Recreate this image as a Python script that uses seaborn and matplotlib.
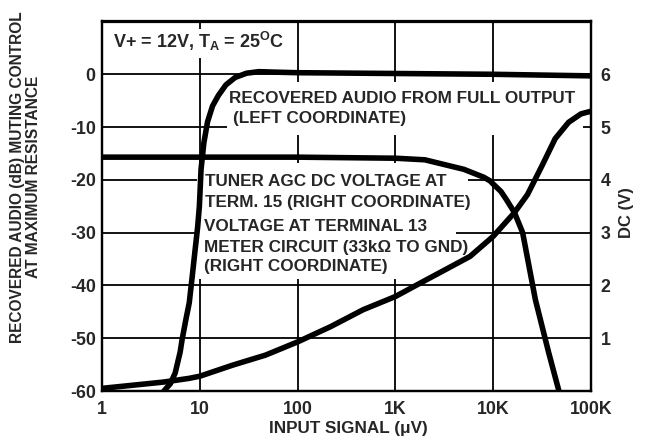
import matplotlib
matplotlib.use("Agg")
import matplotlib.pyplot as plt
from matplotlib.patches import Rectangle
from matplotlib.ticker import NullLocator
import seaborn as sns

# recovered audio from full output (left coordinate, dB)
audio_signal = [4.3, 5.0, 5.6, 6.3, 6.6, 7.2, 7.8, 8.4, 8.9, 9.5, 9.9, 10.3, 11.0, 12.0,
                13.5, 15.5, 18.5, 23, 30, 40, 60, 100, 1000, 10000, 100000]
audio_db = [-60, -58.6, -56.6, -52.6, -50.2, -46.5, -43.3, -38, -33.7, -29, -25, -18, -13, -9,
            -6, -4, -2, -0.6, 0.2, 0.5, 0.4, 0.3, 0.15, 0, -0.3]

# tuner AGC DC voltage at term. 15 (right coordinate, V)
agc_signal = [1, 100, 1000, 2000, 5000, 8000, 9300, 10000, 12000, 13600, 16500, 20000,
              27000, 37000, 47000]
agc_volts = [4.43, 4.43, 4.41, 4.38, 4.2, 4.05, 3.98, 3.92, 3.78, 3.63, 3.38, 3.0,
             1.73, 0.72, 0]

# voltage at terminal 13, meter circuit 33k to gnd (right coordinate, V)
meter_signal = [1, 4.3, 7.8, 10, 21.7, 47, 100, 218, 468, 1000, 1820, 5800, 10000, 16500,
                22400, 31600, 43000, 59000, 79000, 100000]
meter_volts = [0.05, 0.17, 0.24, 0.28, 0.49, 0.68, 0.93, 1.22, 1.54, 1.79, 2.05, 2.55, 2.93,
               3.38, 3.72, 4.27, 4.78, 5.09, 5.25, 5.30]

x_ticks = [1, 10, 100, 1000, 10000, 100000]
x_labels = ["1", "10", "100", "1K", "10K", "100K"]
db_ticks = [0, -10, -20, -30, -40, -50, -60]
dc_ticks = [1, 2, 3, 4, 5, 6]

sns.set_style("white")
plt.rcParams["font.family"] = ["Liberation Sans", "DejaVu Sans"]
plt.rcParams["font.weight"] = "bold"
plt.rcParams["axes.unicode_minus"] = False
plt.rcParams["mathtext.fontset"] = "custom"
plt.rcParams["mathtext.rm"] = "Liberation Sans:bold"
plt.rcParams["mathtext.bf"] = "Liberation Sans:bold"
plt.rcParams["mathtext.default"] = "bf"

W, H = 648, 445
L, R, T, B = 102, 591, 21.5, 391
FS_TICK = 12.8
FS_NOTE = 12.3
LW = 4.0


def fx(px):
    return (px - L) / (R - L)


def fy(py):
    return (B - py) / (B - T)


fig = plt.figure(figsize=(W / 100, H / 100), dpi=100)
ax = fig.add_axes([L / W, 1 - B / H, (R - L) / W, (B - T) / H])
ax.set_xscale("log")
ax2 = ax.twinx()

sns.lineplot(x=audio_signal, y=audio_db, ax=ax, color="black", lw=LW, zorder=3)
sns.lineplot(x=agc_signal, y=agc_volts, ax=ax2, color="black", lw=LW, zorder=3)
sns.lineplot(x=meter_signal, y=meter_volts, ax=ax2, color="black", lw=LW, zorder=3)

ax.set_xlim(1, 100000)
ax.set_ylim(-60, 10)
ax2.set_ylim(0, 7)

ax.set_xticks(x_ticks)
ax.set_xticklabels(x_labels, fontsize=FS_TICK, fontweight="bold")
ax.xaxis.set_minor_locator(NullLocator())
ax.set_yticks(db_ticks)
ax.set_yticklabels([str(v) for v in db_ticks], fontsize=FS_TICK, fontweight="bold")
ax2.set_yticks(dc_ticks)
ax2.set_yticklabels([str(v) for v in dc_ticks], fontsize=FS_TICK, fontweight="bold")
ax.tick_params(axis="x", which="both", length=0, pad=7.5)
ax.tick_params(axis="y", which="both", length=0, pad=4.5)
ax2.tick_params(axis="y", which="both", length=0, pad=7)

ax.set_axisbelow(True)
ax.grid(True, color="black", lw=1.3)
ax2.grid(False)
for a in (ax, ax2):
    for s in a.spines.values():
        s.set_color("black")
        s.set_linewidth(1.6)
ax.set_xlabel("")
ax.set_ylabel("")
ax2.set_ylabel("")

# white blanks under the annotation text (they break the grid in the original)
blanks = [(110, 29, 292, 58), (227, 82, 583, 135), (197, 163, 468, 210), (197, 210, 456, 279)]
for x0, y0, x1, y1 in blanks:
    ax.add_patch(Rectangle((fx(x0), fy(y1)), fx(x1) - fx(x0), fy(y0) - fy(y1),
                           transform=ax.transAxes, facecolor="white", edgecolor="none",
                           zorder=1.5))

notes = [
    (229, 103.3, "RECOVERED AUDIO FROM FULL OUTPUT"),
    (232.7, 123.3, "(LEFT COORDINATE)"),
    (205, 186, "TUNER AGC DC VOLTAGE AT"),
    (205, 206.7, "TERM. 15 (RIGHT COORDINATE)"),
    (204, 230.7, "VOLTAGE AT TERMINAL 13"),
    (204, 252, "METER CIRCUIT (33k\u03a9 TO GND)"),
    (204, 271, "(RIGHT COORDINATE)"),
]
for px, py, txt in notes:
    ax.text(fx(px), fy(py), txt, transform=ax.transAxes, ha="left", va="baseline",
            fontsize=FS_NOTE, fontweight="bold", zorder=2)
ax.text(fx(113), fy(48), r"V+ = 12V, T$_\mathbf{A}$ = 25$^\mathbf{O}$C", transform=ax.transAxes,
        ha="left", va="baseline", fontsize=13, fontweight="bold", zorder=2)

fig.text(25.5 / W, 1 - 177 / H, "RECOVERED AUDIO (dB) MUTING CONTROL\nAT MAXIMUM RESISTANCE",
         rotation=90, ha="center", va="center", multialignment="center",
         fontsize=11.2, fontweight="bold", linespacing=1.1)
fig.text(627 / W, 1 - 212.5 / H, "DC (V)", rotation=90, ha="center", va="center",
         fontsize=12, fontweight="bold")
fig.text(348 / W, 1 - 433.5 / H, "INPUT SIGNAL (\u03bcV)", ha="center", va="baseline",
         fontsize=12.3, fontweight="bold")

fig.savefig("out.png", dpi=100, facecolor="white")
